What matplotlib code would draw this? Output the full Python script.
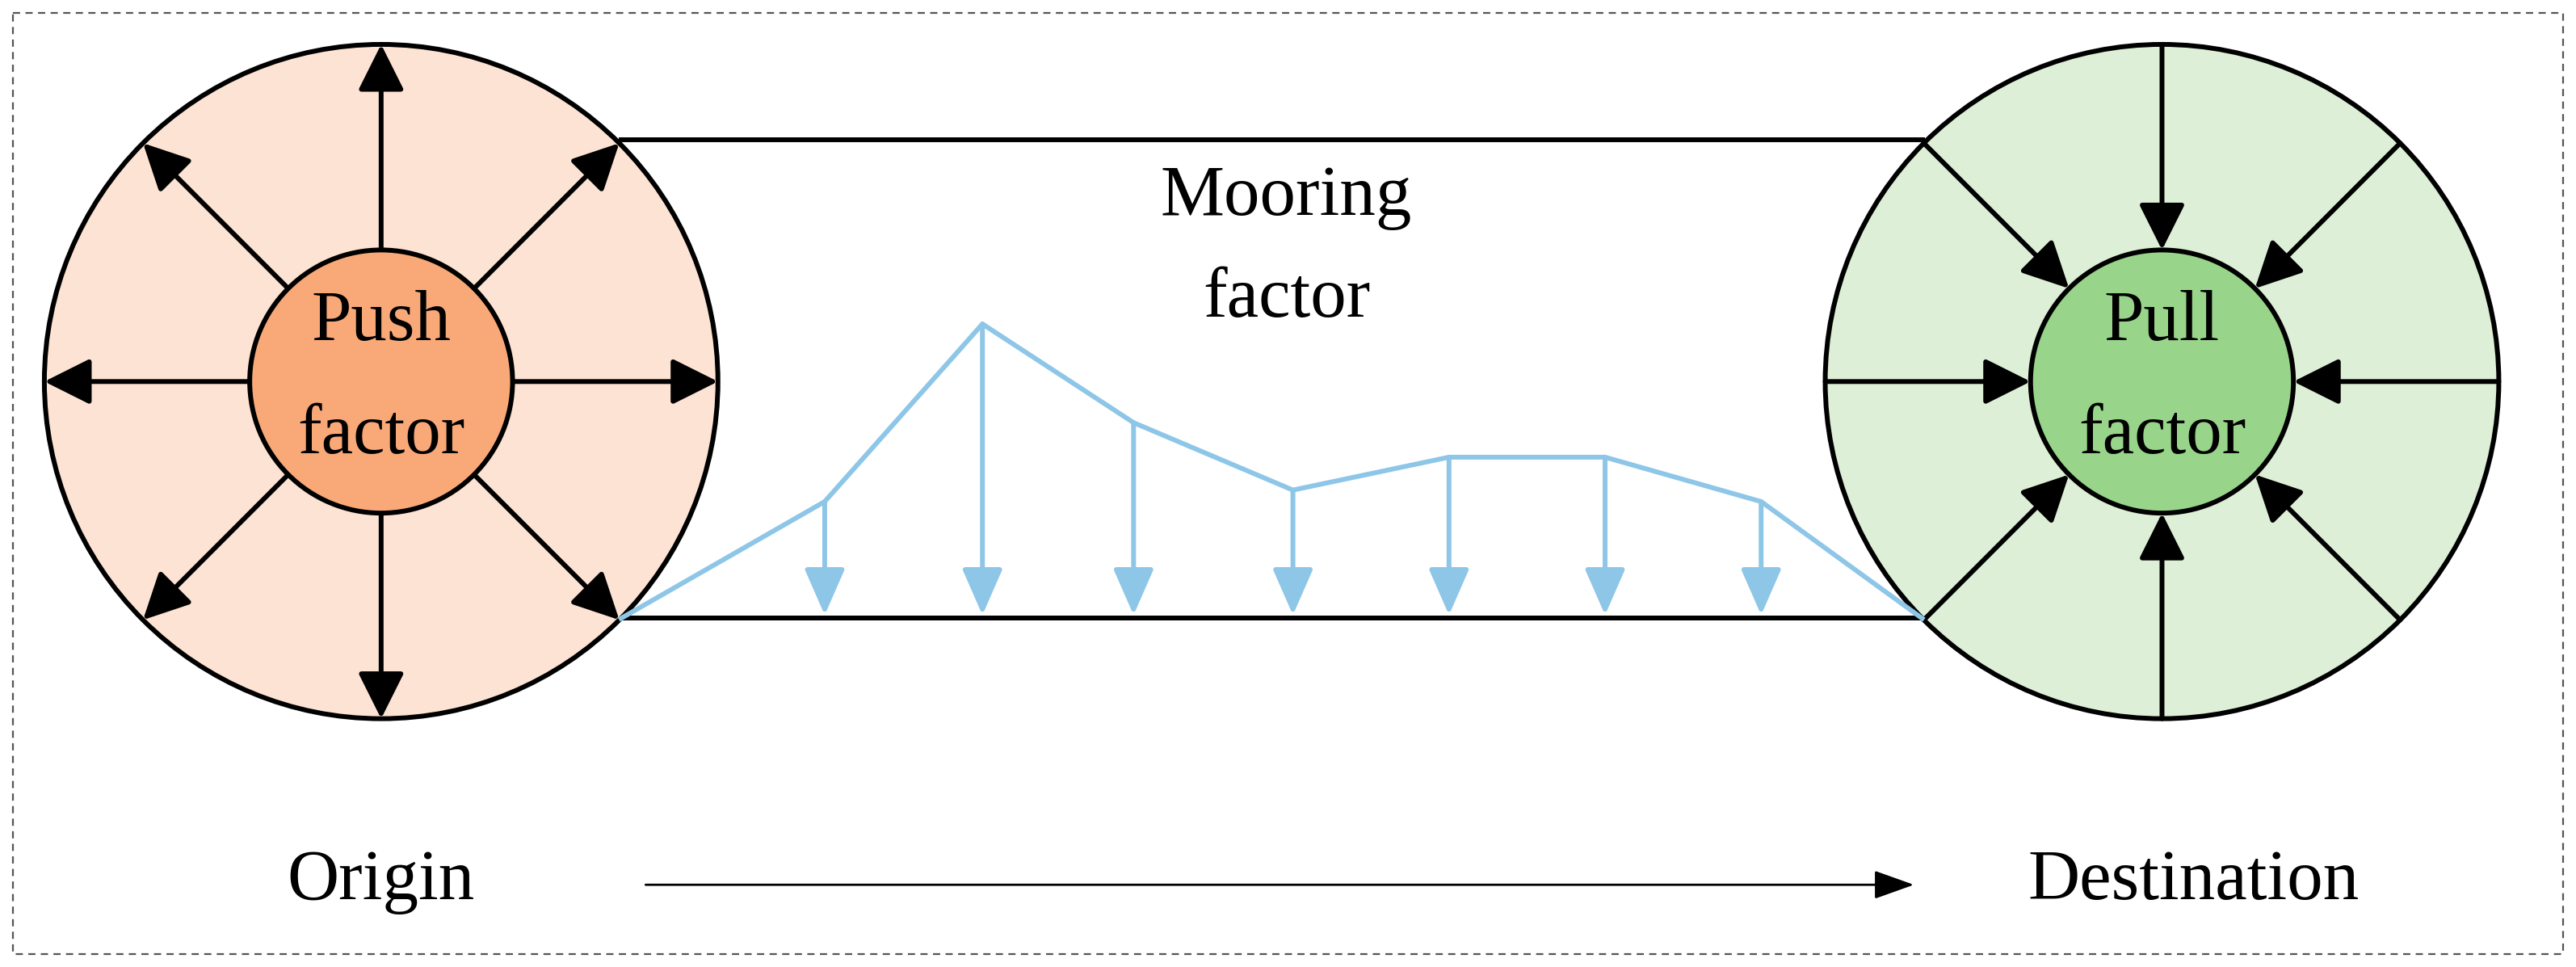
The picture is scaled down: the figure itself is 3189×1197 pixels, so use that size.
import matplotlib
matplotlib.use("Agg")
import matplotlib.pyplot as plt
import numpy as np
from matplotlib.patches import Circle, Rectangle, FancyArrowPatch

# data (display units)
mooring_x = [378, 502, 598, 690, 787, 882, 977, 1072, 1170]
mooring_y = [376, 305, 197, 257, 298, 278, 278, 305, 376]
angles = [0, 45, 90, 135, 180, 225, 270, 315]

fig = plt.figure(figsize=(31.89, 11.97), dpi=100)
ax = fig.add_axes([0, 0, 1, 1])
ax.set_xlim(0, 1568); ax.set_ylim(588, 0); ax.axis('off')
serif = 'Liberation Serif'
lw = 4.3

ax.add_patch(Rectangle((8, 8), 1552, 572, fill=False, ls=(0, (4, 3)), lw=1.6, ec='#555555'))

def wheel(cx, cy, outer_c, inner_c, outward):
    ax.add_patch(Circle((cx, cy), 205, fc=outer_c, ec='black', lw=lw, zorder=1))
    for a in angles:
        t = np.deg2rad(a)
        p_in = (cx + 80*np.cos(t), cy - 80*np.sin(t))
        p_out = (cx + 205*np.cos(t), cy - 205*np.sin(t))
        s, e = (p_in, p_out) if outward else (p_out, p_in)
        ax.add_patch(FancyArrowPatch(s, e, arrowstyle='-|>,head_length=1.6,head_width=0.8',
                                     mutation_scale=22, color='black', lw=lw, zorder=2,
                                     shrinkA=0, shrinkB=0))
    ax.add_patch(Circle((cx, cy), 80, fc=inner_c, ec='black', lw=lw, zorder=3))

wheel(232, 232, '#FDE3D3', '#F9A978', True)
wheel(1316, 232, '#DDEFD6', '#98D48A', False)

ax.plot([378, 1170], [85, 85], color='black', lw=lw, zorder=0)
ax.plot([378, 1170], [376, 376], color='black', lw=lw, zorder=0)

blue = '#8EC6E8'
ax.plot(mooring_x, mooring_y, color=blue, lw=lw, zorder=4)
for x, y in zip(mooring_x[1:-1], mooring_y[1:-1]):
    ax.add_patch(FancyArrowPatch((x, y), (x, 374), arrowstyle='-|>,head_length=1.6,head_width=0.7',
                                 mutation_scale=22, color=blue, lw=lw, zorder=4, shrinkA=0, shrinkB=0))

fs = 64
ax.text(783, 120, 'Mooring', fontsize=fs, family=serif, ha='center', va='center')
ax.text(783, 182, 'factor', fontsize=fs, family=serif, ha='center', va='center')
ax.text(232, 196, 'Push', fontsize=fs, family=serif, ha='center', va='center', zorder=5)
ax.text(232, 265, 'factor', fontsize=fs, family=serif, ha='center', va='center', zorder=5)
ax.text(1316, 196, 'Pull', fontsize=fs, family=serif, ha='center', va='center', zorder=5)
ax.text(1316, 265, 'factor', fontsize=fs, family=serif, ha='center', va='center', zorder=5)
ax.text(232, 536, 'Origin', fontsize=fs, family=serif, ha='center', va='center')
ax.text(1335, 536, 'Destination', fontsize=fs, family=serif, ha='center', va='center')
ax.add_patch(FancyArrowPatch((393, 538), (1165, 538), arrowstyle='-|>,head_length=1.4,head_width=0.5',
                             mutation_scale=22, color='black', lw=2, shrinkA=0, shrinkB=0))

fig.savefig('out.png', dpi=100)
